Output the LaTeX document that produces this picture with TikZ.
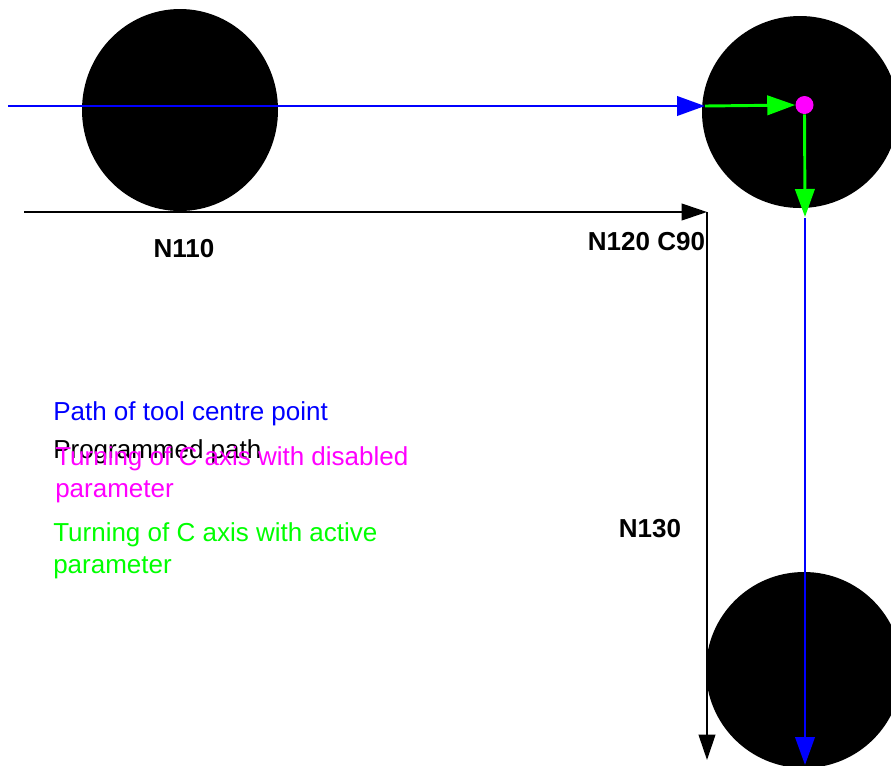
\documentclass[tikz,border=0pt]{standalone}
\usepackage{fontspec}
\setmainfont{Liberation Sans}
\usetikzlibrary{arrows.meta,shapes.geometric}
\definecolor{toolblue}{HTML}{0000FF}
\definecolor{progblack}{HTML}{000000}
\definecolor{axisgreen}{HTML}{00FF00}
\definecolor{axismag}{HTML}{FF00FF}
\tikzset{
  toolbody/.style={ellipse, fill=black, inner sep=0pt},
  blockname/.style={font=\fontsize{19.5}{24}\selectfont\bfseries, text=black, inner sep=0pt},
  legend/.style={font=\fontsize{19.5}{24}\selectfont, anchor=base west, align=left, inner sep=0pt},
  toolpath/.style={-{Triangle[length=21pt,width=14.5pt]}, line width=2.2pt, color=toolblue},
  turnpath/.style={-{Triangle[length=21pt,width=14.5pt]}, line width=2.2pt, color=axisgreen},
  progpath/.style={-{Triangle[length=19pt,width=12.5pt]}, line width=1.4pt, color=progblack},
}
\begin{document}
\begin{tikzpicture}[x=0.75pt,y=-0.75pt]
\useasboundingbox (0,0) rectangle (891,765);
\clip (0,0) rectangle (891,765);
\node[toolbody, minimum width=147pt, minimum height=151.5pt] (bodyA) at (180,110) {};
\node[toolbody, minimum width=147pt, minimum height=144pt] (bodyB) at (800,112) {};
\node[toolbody, minimum width=147pt, minimum height=147pt] (bodyC) at (804,670) {};
\coordinate (pathstart) at (8,106);
\coordinate (pathturn) at (705,106);
\coordinate (downstart) at (805,218);
\coordinate (downend) at (805,765);
\coordinate (progstart) at (24,212);
\coordinate (progcorner) at (707,212);
\coordinate (progend) at (707,760);
\coordinate (turnend) at (805,217);
\node[circle, fill=axismag, minimum size=13.5pt, inner sep=0pt] (pivot) at (804.5,105) {};
\draw[toolpath] (pathstart) -- (pathturn);
\draw[toolpath] (downstart) -- (downend);
\draw[progpath] (progstart) -- (progcorner);
\draw[progpath] (progcorner) -- (progend);
\draw[turnpath] (pathturn) -- (pivot.west);
\draw[turnpath] (pivot.south) -- (turnend);
\node[blockname] (n110) at (184,249) {N110};
\node[blockname] (n120) at (646.5,242) {N120 C90};
\node[blockname] (n130) at (650,529) {N130};
\node[legend, text=toolblue] (lgblue) at (53,420) {Path of tool centre point};
\node[legend, text=black] (lgblack) at (53,458) {Programmed path};
\node[legend, text=axismag] (lgmag) at (55,497) {Turning of C axis with disabled\\parameter};
\node[legend, text=axisgreen] (lggreen) at (53,573) {Turning of C axis with active\\parameter};
\end{tikzpicture}
\end{document}
